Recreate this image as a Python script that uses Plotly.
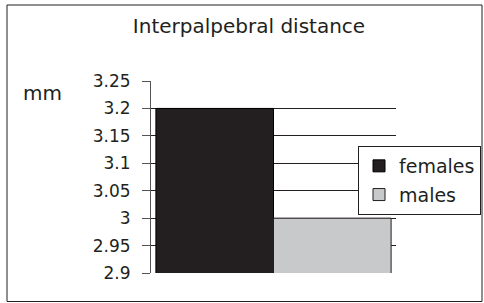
import plotly.graph_objects as go

categories = ["Interpalpebral distance"]
females = [3.2]
males = [3.0]
series_names = ["females", "males"]
tick_vals = [2.9, 2.95, 3.0, 3.05, 3.1, 3.15, 3.2, 3.25]
tick_text = ["2.9", "2.95", "3", "3.05", "3.1", "3.15", "3.2", "3.25"]

FONT = "DejaVu Sans"

fig = go.Figure()
fig.add_trace(go.Bar(x=categories, y=females, name=series_names[0], legendgroup="f",
                     marker=dict(color="#231f20", line=dict(color="#000000", width=1))))
fig.add_trace(go.Bar(x=categories, y=males, name=series_names[1], legendgroup="m",
                     marker=dict(color="#c8c9ca", line=dict(color="#231f20", width=1))))

# plot area in px: x 151..396, y 81..273
L, R, T, B = 151, 88, 81, 30
W, H = 484, 303
pw, ph = W - L - R, H - T - B

def px_x(x):
    return (x - L) / pw

def px_y(y):
    return (H - B - y) / ph

fig.update_layout(
    width=W, height=H,
    margin=dict(l=L, r=R, t=T, b=B, autoexpand=False),
    paper_bgcolor="white", plot_bgcolor="white",
    barmode="group", bargap=0.04, bargroupgap=0,
    showlegend=True,
    title=dict(text="Interpalpebral distance", x=px_x(249), xref="paper", xanchor="center",
               y=1 - 26 / H, yref="container", yanchor="middle",
               font=dict(family=FONT, size=20, color="#231f20")),
    legend=dict(x=px_x(481), y=px_y(146), xanchor="right", yanchor="top",
                bgcolor="white", bordercolor="#231f20", borderwidth=1,
                font=dict(family=FONT, size=19, color="#231f20"),
                traceorder="grouped", tracegroupgap=1),
    font=dict(family=FONT, color="#231f20"),
)
fig.update_yaxes(range=[2.9, 3.25], tickvals=tick_vals, ticktext=tick_text,
                 showgrid=True, gridcolor="#231f20", gridwidth=1,
                 showline=True, linecolor="#555555", linewidth=1,
                 ticks="outside", ticklen=8, tickcolor="#555555",
                 ticklabelstandoff=8, zeroline=False, automargin=False,
                 tickfont=dict(family=FONT, size=17, color="#231f20"))
fig.update_xaxes(showticklabels=False, showgrid=False, showline=False, zeroline=False,
                 ticks="", automargin=False)

fig.add_annotation(text="mm", x=px_x(42), y=px_y(93), xref="paper", yref="paper",
                   showarrow=False, xanchor="center", yanchor="middle",
                   font=dict(family=FONT, size=20, color="#231f20"))
fig.add_shape(type="rect", xref="paper", yref="paper",
              x0=px_x(7), x1=px_x(482), y0=px_y(301.5), y1=px_y(5),
              line=dict(color="#231f20", width=1), fillcolor="rgba(0,0,0,0)", layer="above")

fig.write_html(
    "out.html",
    config={"displayModeBar": False},
    post_script=(
        "document.body.style.margin='0';"
        "document.body.style.overflow='hidden';"
        "document.documentElement.style.overflow='hidden';"
    ),
)
